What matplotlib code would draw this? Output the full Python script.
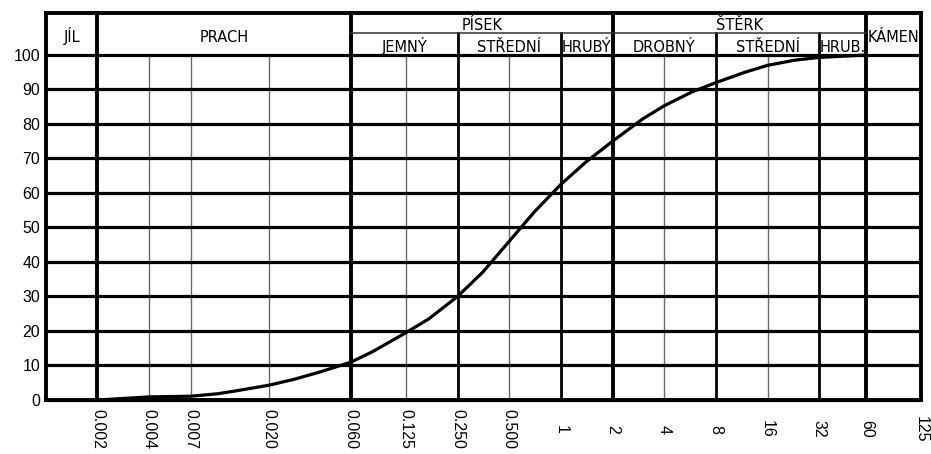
import matplotlib
matplotlib.use("Agg")
import matplotlib.pyplot as plt
from matplotlib.ticker import NullLocator, FixedLocator

# ---------------- data ----------------
# grain size (mm) and percent passing
grain_size = [0.002, 0.004, 0.007, 0.01, 0.013, 0.02, 0.028, 0.04, 0.06,
              0.08, 0.125, 0.17, 0.25, 0.35, 0.5, 0.7, 1, 1.4, 2,
              3, 4, 5.8, 8, 11.8, 16, 23, 32, 60]
passing = [0, 0.9, 1.1, 1.8, 2.7, 4.3, 6.0, 8.2, 11.0,
           14.0, 19.5, 23.5, 30.0, 37.0, 46.0, 54.5, 62.5, 69.0, 75.0,
           81.5, 85.3, 89.3, 92.0, 95.0, 97.0, 98.5, 99.3, 100]

x_ticks = [0.002, 0.004, 0.007, 0.020, 0.060, 0.125, 0.250, 0.500,
           1, 2, 4, 8, 16, 32, 60, 125]
x_tick_labels = ["0.002", "0.004", "0.007", "0.020", "0.060", "0.125", "0.250",
                 "0.500", "1", "2", "4", "8", "16", "32", "60", "125"]
y_ticks = [0, 10, 20, 30, 40, 50, 60, 70, 80, 90, 100]

thick_lines = [0.002, 0.060, 2, 60]
medium_lines = [0.25, 1, 8, 32]
thin_lines = [0.004, 0.007, 0.020, 0.125, 0.5, 4, 16]

main_classes = [("JÍL", 0.001, 0.002), ("PRACH", 0.002, 0.060), ("KÁMEN", 60, 125)]
group_classes = [("PÍSEK", 0.060, 2), ("ŠTĚRK", 2, 60)]
sub_classes = [("JEMNÝ", 0.060, 0.25), ("STŘEDNÍ", 0.25, 1), ("HRUBÝ", 1, 2),
               ("DROBNÝ", 2, 8), ("STŘEDNÍ", 8, 32), ("HRUB.", 32, 60)]

X_MIN, X_MAX = 0.001, 125
Y_TOP = 112.17      # top of header band
Y_MID = 106.4       # header middle line

# ---------------- figure ----------------
W, H = 931, 454
fig = plt.figure(figsize=(W / 100, H / 100), dpi=100)
left_px, right_px, bottom_px, top_px = 45.7, 921, 400, 13
ax = fig.add_axes([left_px / W, 1 - bottom_px / H,
                   (right_px - left_px) / W, (bottom_px - top_px) / H])
ax.set_xscale("log")
ax.set_xlim(X_MIN, X_MAX)
ax.set_ylim(0, Y_TOP)
for s in ax.spines.values():
    s.set_visible(False)

ax.xaxis.set_major_locator(FixedLocator(x_ticks))
ax.xaxis.set_minor_locator(NullLocator())
ax.set_xticks(x_ticks, x_tick_labels)
for lab in ax.get_xticklabels():
    lab.set_rotation(-90)
    lab.set_va("center")
    lab.set_ha("center")
    lab.set_family(["Liberation Sans", "DejaVu Sans"])
    lab.set_fontsize(11.5)
ax.tick_params(axis="x", length=0, pad=21)

ax.set_yticks(y_ticks, [str(v) for v in y_ticks])
ax.yaxis.set_minor_locator(NullLocator())
for lab in ax.get_yticklabels():
    lab.set_family(["Liberation Sans", "DejaVu Sans"])
    lab.set_fontsize(11.5)
ax.tick_params(axis="y", length=0, pad=4)

# horizontal grid lines
for yv in y_ticks:
    ax.plot([X_MIN, X_MAX], [yv, yv], color="black", lw=2.3,
            solid_capstyle="butt", zorder=2, clip_on=False)

# vertical grid lines in plot area
for xv in thin_lines:
    ax.plot([xv, xv], [0, 100], color="#6a6a6a", lw=1.0, zorder=1)
for xv in medium_lines:
    ax.plot([xv, xv], [0, Y_MID], color="black", lw=2.0,
            zorder=2, clip_on=False)
for xv in thick_lines:
    ax.plot([xv, xv], [0, Y_TOP], color="black", lw=2.8, zorder=2, clip_on=False)

# header middle line
ax.plot([0.060, 60], [Y_MID, Y_MID], color="#333333", lw=1.1, zorder=2, clip_on=False)

# borders
ax.plot([X_MIN, X_MIN], [0, Y_TOP], color="black", lw=2.8, zorder=3, clip_on=False)
ax.plot([X_MAX, X_MAX], [0, Y_TOP], color="black", lw=2.8, zorder=3, clip_on=False)
ax.plot([X_MIN, X_MAX], [Y_TOP, Y_TOP], color="black", lw=2.8, zorder=3,
        solid_capstyle="projecting", clip_on=False)
ax.plot([X_MIN, X_MAX], [0, 0], color="black", lw=2.8, zorder=3,
        solid_capstyle="projecting", clip_on=False)

# header texts
hfont = dict(family=["DejaVu Sans"], fontsize=10.5, color="black")
gm = lambda a, b: (a * b) ** 0.5
for name, a, b in main_classes:
    ax.text(gm(a, b), 103.9, name, ha="center", va="baseline", **hfont)
for name, a, b in group_classes:
    ax.text(gm(a, b), 107.3, name, ha="center", va="baseline", **hfont)
for name, a, b in sub_classes:
    ax.text(gm(a, b), 101.0, name, ha="center", va="baseline", **hfont)

# grading curve
ax.plot(grain_size, passing, color="black", lw=2.3, zorder=5,
        solid_joinstyle="round", solid_capstyle="round")

fig.savefig("out.png", dpi=100)
